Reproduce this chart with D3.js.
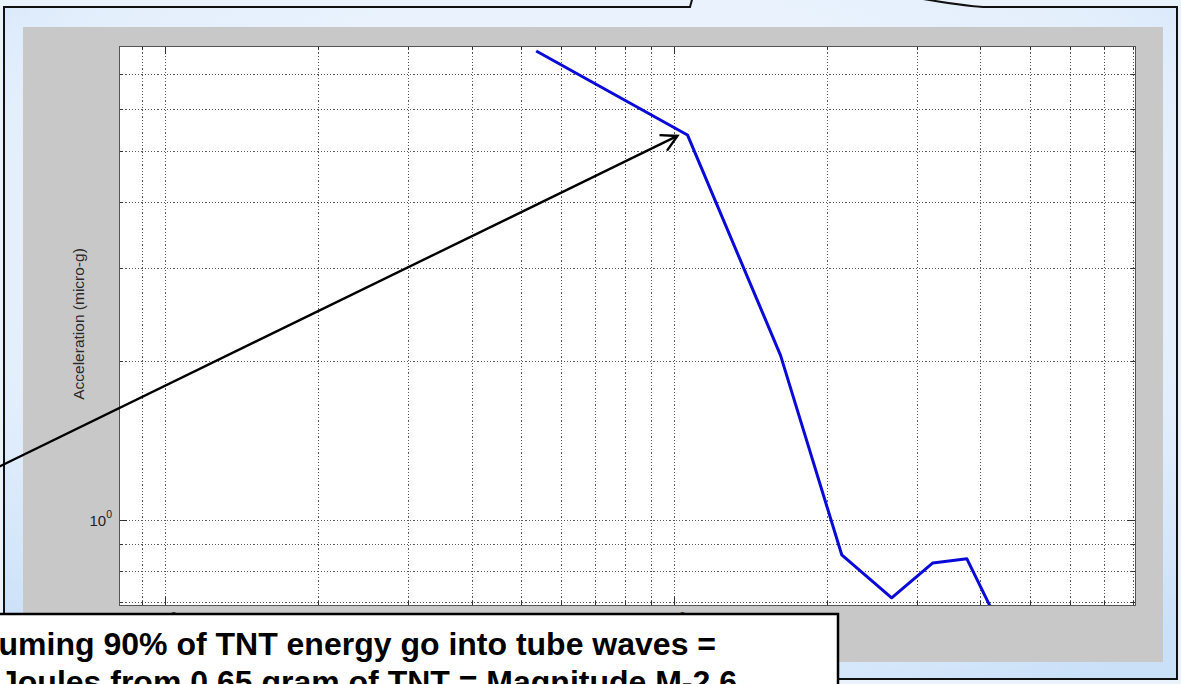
<!DOCTYPE html>
<meta charset="utf-8">
<style>
body { margin: 0; background: #eaf2fc; overflow: hidden; }
svg { display: block; font-family: "Liberation Sans", Arial, sans-serif; }
.grid line { stroke: #5a5a5a; stroke-dasharray: 1.2,2; shape-rendering: crispEdges; }
.tick-mark { stroke: #333; shape-rendering: crispEdges; }
.callout text { font-weight: bold; font-size: 32px; fill: #000; }
</style>
<svg width="1181" height="684"></svg>
<script src="https://cdn.jsdelivr.net/npm/d3@7"></script>
<script>

// spectrum
var freq = [536, 1063, 1620, 2137, 2679, 3228, 3766, 4300];
var accel = [7.73, 5.36, 2.05, 0.859, 0.712, 0.829, 0.844, 0.65];

var xDomain = [81.1, 8060],
    yDomain = [0.69, 7.9];

var yLabel = "Acceleration (micro-g)";
var calloutLines = ["Assuming 90% of TNT energy go into tube waves =",
                    "Joules from 0.65 gram of TNT = Magnitude M-2.6"];

var svg = d3.select("svg");

var defs = svg.append("defs");
var grad = defs.append("radialGradient").attr("id", "frameFill")
    .attr("cx", "50%").attr("cy", "35%").attr("r", "75%");
grad.append("stop").attr("offset", "0%").attr("stop-color", "#f3f8fe");
grad.append("stop").attr("offset", "70%").attr("stop-color", "#e4effc");
grad.append("stop").attr("offset", "100%").attr("stop-color", "#c9e0f8");

// slide frame (speech bubble whose tail leaves the top)
svg.append("path")
    .attr("d", "M4,700 L4,7 L690,7 L693,-4 L905,-4 C930,0 955,5 983,7 L1177,7 L1177,679 L4,679 Z")
    .attr("fill", "url(#frameFill)")
    .attr("stroke", "#111")
    .attr("stroke-width", 2);

// figure background
svg.append("rect")
    .attr("x", 23).attr("y", 27).attr("width", 1140).attr("height", 635)
    .attr("fill", "#c8c8c8");

var plot = { left: 119, top: 46, right: 1135, bottom: 605 };

var x = d3.scaleLog().domain(xDomain).range([plot.left, plot.right]);
var y = d3.scaleLog().domain(yDomain).range([plot.bottom, plot.top]);

svg.append("rect")
    .attr("x", plot.left).attr("y", plot.top)
    .attr("width", plot.right - plot.left).attr("height", plot.bottom - plot.top)
    .attr("fill", "#fff");

var xTicks = x.ticks(),
    yTicks = y.ticks();

function isDecade(v) { return Math.abs(Math.log10(v) - Math.round(Math.log10(v))) < 1e-9; }

// grid
var grid = svg.append("g").attr("class", "grid");
grid.selectAll(".gx").data(xTicks).enter().append("line")
    .attr("x1", function(d) { return Math.round(x(d)) + 0.5; })
    .attr("x2", function(d) { return Math.round(x(d)) + 0.5; })
    .attr("y1", plot.top).attr("y2", plot.bottom);
grid.selectAll(".gy").data(yTicks).enter().append("line")
    .attr("y1", function(d) { return Math.round(y(d)) + 0.5; })
    .attr("y2", function(d) { return Math.round(y(d)) + 0.5; })
    .attr("x1", plot.left).attr("x2", plot.right);

// inward ticks on all four sides
var ticks = svg.append("g");
xTicks.forEach(function(d) {
  var len = isDecade(d) ? 8 : 4, px = Math.round(x(d)) + 0.5;
  ticks.append("line").attr("class", "tick-mark")
      .attr("x1", px).attr("x2", px).attr("y1", plot.bottom).attr("y2", plot.bottom - len);
  ticks.append("line").attr("class", "tick-mark")
      .attr("x1", px).attr("x2", px).attr("y1", plot.top).attr("y2", plot.top + len);
});
yTicks.forEach(function(d) {
  var len = isDecade(d) ? 8 : 4, py = Math.round(y(d)) + 0.5;
  ticks.append("line").attr("class", "tick-mark")
      .attr("y1", py).attr("y2", py).attr("x1", plot.left).attr("x2", plot.left + len);
  ticks.append("line").attr("class", "tick-mark")
      .attr("y1", py).attr("y2", py).attr("x1", plot.right).attr("x2", plot.right - len);
});

svg.append("rect")
    .attr("x", plot.left + 0.5).attr("y", plot.top + 0.5)
    .attr("width", plot.right - plot.left).attr("height", plot.bottom - plot.top)
    .attr("fill", "none").attr("stroke", "#555");

// tick labels (10^n)
var yl = svg.append("g").selectAll("text")
    .data(yTicks.filter(isDecade)).enter().append("text")
    .attr("x", plot.left - 7).attr("y", function(d) { return y(d) + 6; })
    .attr("text-anchor", "end").attr("font-size", 15).attr("fill", "#222");
yl.append("tspan").text("10");
yl.append("tspan").attr("dy", -8).attr("font-size", 10.5)
    .text(function(d) { return Math.round(Math.log10(d)); });

var xl = svg.append("g").selectAll("text")
    .data(xTicks.filter(isDecade)).enter().append("text")
    .attr("x", function(d) { return x(d); }).attr("y", 628)
    .attr("text-anchor", "middle").attr("font-size", 15).attr("fill", "#222");
xl.append("tspan").text("10");
xl.append("tspan").attr("dy", -8).attr("font-size", 10.5)
    .text(function(d) { return Math.round(Math.log10(d)); });

svg.append("text")
    .attr("transform", "translate(84,324) rotate(-90)")
    .attr("text-anchor", "middle").attr("font-size", 15.5).attr("fill", "#2a2a2a")
    .text(yLabel);

// data line
defs.append("clipPath").attr("id", "plotClip").append("rect")
    .attr("x", plot.left).attr("y", plot.top)
    .attr("width", plot.right - plot.left).attr("height", plot.bottom - plot.top);

var line = d3.line()
    .x(function(d, i) { return x(freq[i]); })
    .y(function(d, i) { return y(accel[i]); });

svg.append("path")
    .datum(freq)
    .attr("clip-path", "url(#plotClip)")
    .attr("d", line)
    .attr("fill", "none")
    .attr("stroke", "#0a0ad8")
    .attr("stroke-width", 3)
    .attr("stroke-linejoin", "round");

// annotation arrow pointing at the second point
var tip = [x(freq[1]) - 10, y(accel[1]) + 1],
    tail = [-20, 476],
    ang = Math.atan2(tail[1] - tip[1], tail[0] - tip[0]),
    head = 18;
svg.append("line")
    .attr("x1", tail[0]).attr("y1", tail[1]).attr("x2", tip[0]).attr("y2", tip[1])
    .attr("stroke", "#000").attr("stroke-width", 2.4);
svg.append("path")
    .attr("d", "M" + (tip[0] + head * Math.cos(ang - 0.5)) + "," + (tip[1] + head * Math.sin(ang - 0.5)) +
               "L" + tip[0] + "," + tip[1] +
               "L" + (tip[0] + head * Math.cos(ang + 0.5)) + "," + (tip[1] + head * Math.sin(ang + 0.5)))
    .attr("fill", "none").attr("stroke", "#000").attr("stroke-width", 2.4);

// callout text box
var callout = svg.append("g").attr("class", "callout");
callout.append("rect")
    .attr("x", -10).attr("y", 614).attr("width", 848).attr("height", 100)
    .attr("fill", "#fff").attr("stroke", "#000").attr("stroke-width", 2.5);
callout.selectAll("text").data(calloutLines).enter().append("text")
    .attr("x", function(d, i) { return i ? 737 : 716; })
    .attr("y", function(d, i) { return 655 + i * 38; })
    .attr("text-anchor", "end")
    .text(function(d) { return d; });

</script>
